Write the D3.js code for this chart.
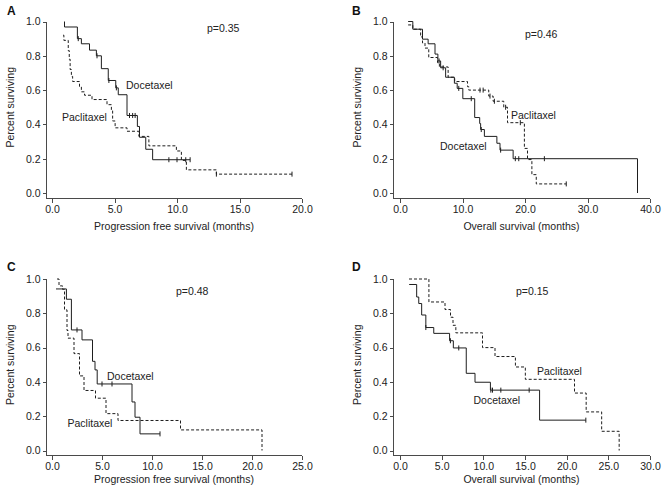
<!DOCTYPE html>
<html><head><meta charset="utf-8">
<script src="https://cdn.jsdelivr.net/npm/d3@7/dist/d3.min.js"></script>
<style>
body{margin:0;background:#fff}
svg{display:block}
text{font-family:"Liberation Sans",Arial,Helvetica,sans-serif;fill:#222}
</style></head><body>
<svg id="c" width="668" height="491"></svg>
<script>
// ---------- DATA (time in months, survival fraction) ----------
const yTicks = [0, 0.2, 0.4, 0.6, 0.8, 1.0];
const aTicksX = [0, 5, 10, 15, 20];
const bTicksX = [0, 10, 20, 30, 40];
const cTicksX = [0, 5, 10, 15, 20, 25];
const dTicksX = [0, 5, 10, 15, 20, 25, 30];

const aPValue = "p=0.35", bPValue = "p=0.46", cPValue = "p=0.48", dPValue = "p=0.15";

const aDocetaxel = [[1.0,1.0],[1.0,0.968],[2.03,0.90],[2.35,0.87],[3.0,0.833],[3.55,0.80],[3.95,0.725],[4.5,0.656],[5.1,0.613],[5.3,0.573],[6.0,0.452],[6.83,0.388],[7.0,0.325],[7.5,0.255],[8.05,0.194],[11.05,0.194]];
const aDocetaxelCensor = [2.1, 3.6, 4.55, 5.15, 6.2, 6.45, 6.65, 9.35, 10.0, 10.7, 11.05];
const aPaclitaxel = [[0.88,0.92],[0.95,0.89],[1.3,0.83],[1.38,0.78],[1.45,0.72],[1.55,0.68],[1.65,0.65],[2.2,0.62],[2.35,0.59],[2.6,0.57],[3.2,0.545],[4.4,0.515],[4.75,0.48],[4.85,0.42],[5.05,0.38],[6.0,0.36],[6.95,0.33],[7.75,0.275],[9.95,0.245],[10.35,0.19],[10.75,0.135],[13.15,0.11],[19.2,0.11]];
const aPaclitaxelCensor = [13.15, 19.2];

const bDocetaxel = [[1.3,1.0],[2.05,0.955],[3.6,0.897],[4.5,0.87],[5.6,0.81],[6.06,0.77],[6.5,0.73],[7.3,0.675],[8.7,0.64],[9.15,0.61],[10.05,0.55],[11.95,0.44],[12.75,0.405],[12.9,0.37],[13.5,0.33],[15.5,0.29],[16.0,0.25],[18.1,0.20],[38.0,0.0]];
const bDocetaxelCensor = [6.25, 6.9, 9.4, 11.4, 13.0, 16.1, 18.45, 19.0, 23.1];
const bPaclitaxel = [[1.3,0.98],[2.05,0.955],[3.3,0.91],[3.6,0.875],[4.0,0.845],[4.6,0.79],[6.0,0.76],[6.3,0.735],[7.7,0.675],[8.75,0.65],[10.8,0.62],[11.0,0.60],[14.2,0.565],[14.9,0.535],[16.6,0.50],[17.2,0.41],[19.9,0.26],[20.4,0.195],[21.1,0.107],[21.8,0.053],[26.6,0.053]];
const bPaclitaxelCensor = [12.8, 13.3, 14.4, 15.1, 16.9, 19.25, 26.6];

const cDocetaxel = [[0.4,0.942],[1.44,0.882],[1.94,0.703],[3.0,0.645],[4.05,0.52],[4.3,0.47],[4.52,0.388],[8.0,0.283],[8.3,0.194],[8.8,0.097],[10.8,0.097]];
const cDocetaxelCensor = [2.5, 5.0, 6.0, 10.8];
const cPaclitaxel = [[0.5,1.0],[0.7,0.96],[1.05,0.94],[1.25,0.82],[1.5,0.70],[1.6,0.655],[2.2,0.565],[2.75,0.435],[3.2,0.35],[4.35,0.305],[5.4,0.215],[6.6,0.175],[12.85,0.12],[21.0,0.0]];
const cPaclitaxelCensor = [];

const dDocetaxel = [[1.1,0.968],[2.0,0.895],[2.25,0.857],[2.6,0.79],[3.1,0.717],[4.05,0.683],[5.95,0.64],[6.4,0.598],[7.95,0.45],[9.0,0.398],[10.85,0.352],[16.75,0.177],[22.3,0.177]];
const dDocetaxelCensor = [3.1, 6.05, 7.05, 10.9, 11.1, 12.1, 15.5, 22.3];
const dPaclitaxel = [[1.08,1.0],[3.47,0.866],[5.4,0.822],[6.06,0.777],[6.36,0.73],[6.7,0.686],[9.9,0.6],[11.4,0.548],[13.85,0.487],[15.04,0.415],[20.94,0.335],[22.34,0.225],[24.2,0.112],[26.3,0.0]];
const dPaclitaxelCensor = [];

const pfsTitle = "Progression free survival (months)";
const osTitle = "Overall survival (months)";

// ---------- LAYOUT ----------
const panels = [
  {letter:"A", lx:7, ly:15, ax:46, xr:[52,302], yr:[193,21.5], axY:198, ticks:aTicksX, title:pfsTitle, ylabX:14,
   p:aPValue, px:207, py:31.5, doc:aDocetaxel, docC:aDocetaxelCensor, pac:aPaclitaxel, pacC:aPaclitaxelCensor,
   docL:[126,88.5], pacL:[62,120.5], titleY:229.5, tickY:213},
  {letter:"B", lx:352, ly:15, ax:393, xr:[400,650], yr:[193,21.5], axY:198, ticks:bTicksX, title:osTitle, ylabX:360.5,
   p:bPValue, px:525, py:37.5, doc:bDocetaxel, docC:bDocetaxelCensor, pac:bPaclitaxel, pacC:bPaclitaxelCensor,
   docL:[440,150], pacL:[511,118.5], titleY:229.5, tickY:213},
  {letter:"C", lx:7, ly:271, ax:46, xr:[52,302], yr:[450.5,279], axY:455, ticks:cTicksX, title:pfsTitle, ylabX:14,
   p:cPValue, px:176, py:294.5, doc:cDocetaxel, docC:cDocetaxelCensor, pac:cPaclitaxel, pacC:cPaclitaxelCensor,
   docL:[107,380], pacL:[67.5,427], titleY:482.5, tickY:469},
  {letter:"D", lx:352, ly:271, ax:393, xr:[400,650], yr:[450.5,279], axY:455, ticks:dTicksX, title:osTitle, ylabX:360.5,
   p:dPValue, px:516, py:294.5, doc:dDocetaxel, docC:dDocetaxelCensor, pac:dPaclitaxel, pacC:dPaclitaxelCensor,
   docL:[473.5,403.5], pacL:[537,374.5], titleY:482.5, tickY:469}
];

const svg = d3.select("#c");
const FS = "10.5px";
const lineCol = "#1e1e1e";
const axisCol = "#4a4a4a";
const fmt = d3.format(".1f");
const bis = d3.bisector(d => d[0]).right;

panels.forEach(P => {
  const xMax = P.ticks[P.ticks.length - 1];
  const x = d3.scaleLinear().domain([0, xMax]).range(P.xr);
  const y = d3.scaleLinear().domain([0, 1]).range(P.yr);
  const g = svg.append("g");

  // panel letter
  g.append("text").attr("x", P.lx).attr("y", P.ly).text(P.letter)
    .style("font-size", "12px").style("font-weight", "bold").style("fill", "#111");

  // axes
  const yAxis = d3.axisLeft(y).tickValues(yTicks).tickFormat(fmt).tickSize(4).tickPadding(2).tickSizeOuter(0);
  const yg = g.append("g").attr("transform", `translate(${P.ax + 0.5},0)`).call(yAxis);
  const xAxis = d3.axisBottom(x).tickValues(P.ticks).tickFormat(fmt).tickSize(4).tickPadding(3).tickSizeOuter(0);
  const xg = g.append("g").attr("transform", `translate(0,${P.axY + 0.5})`).call(xAxis);
  [yg, xg].forEach(a => {
    a.select(".domain").remove();
    a.selectAll("line").attr("stroke", axisCol).attr("shape-rendering", "crispEdges");
    a.selectAll("text").style("font-size", FS).style("font-family", '"Liberation Sans",Arial,sans-serif').attr("fill", "#222");
  });
  g.append("path")
    .attr("d", `M${P.ax + 0.5},${y(1)}V${P.axY + 0.5}H${x(xMax)}`)
    .attr("fill", "none").attr("stroke", axisCol).attr("shape-rendering", "crispEdges");

  // axis titles
  g.append("text").attr("x", (P.ax + x(xMax)) / 2).attr("y", P.titleY).attr("text-anchor", "middle")
    .style("font-size", FS).text(P.title);
  g.append("text").attr("transform", `translate(${P.ylabX},${(y(0) + y(1)) / 2}) rotate(-90)`)
    .attr("text-anchor", "middle").style("font-size", FS).text("Percent surviving");

  // p value
  g.append("text").attr("x", P.px).attr("y", P.py).style("font-size", FS).text(P.p);

  // curves
  const line = d3.line().x(d => x(d[0])).y(d => y(d[1])).curve(d3.curveStepAfter);
  const series = [
    {data:P.doc, cens:P.docC, dash:null},
    {data:P.pac, cens:P.pacC, dash:"3,2"}
  ];
  series.forEach(s => {
    g.append("path").datum(s.data).attr("d", line)
      .attr("fill", "none").attr("stroke", lineCol).attr("stroke-width", 1)
      .attr("stroke-dasharray", s.dash);
    g.selectAll(null).data(s.cens).enter().append("line")
      .attr("x1", t => x(t)).attr("x2", t => x(t))
      .attr("y1", t => y(s.data[Math.max(0, bis(s.data, t) - 1)][1]) - 2.5)
      .attr("y2", t => y(s.data[Math.max(0, bis(s.data, t) - 1)][1]) + 2.5)
      .attr("stroke", lineCol).attr("stroke-width", 1);
  });

  // series labels
  g.append("text").attr("x", P.docL[0]).attr("y", P.docL[1]).style("font-size", FS).text("Docetaxel");
  g.append("text").attr("x", P.pacL[0]).attr("y", P.pacL[1]).style("font-size", FS).text("Paclitaxel");
});
</script>
</body></html>
